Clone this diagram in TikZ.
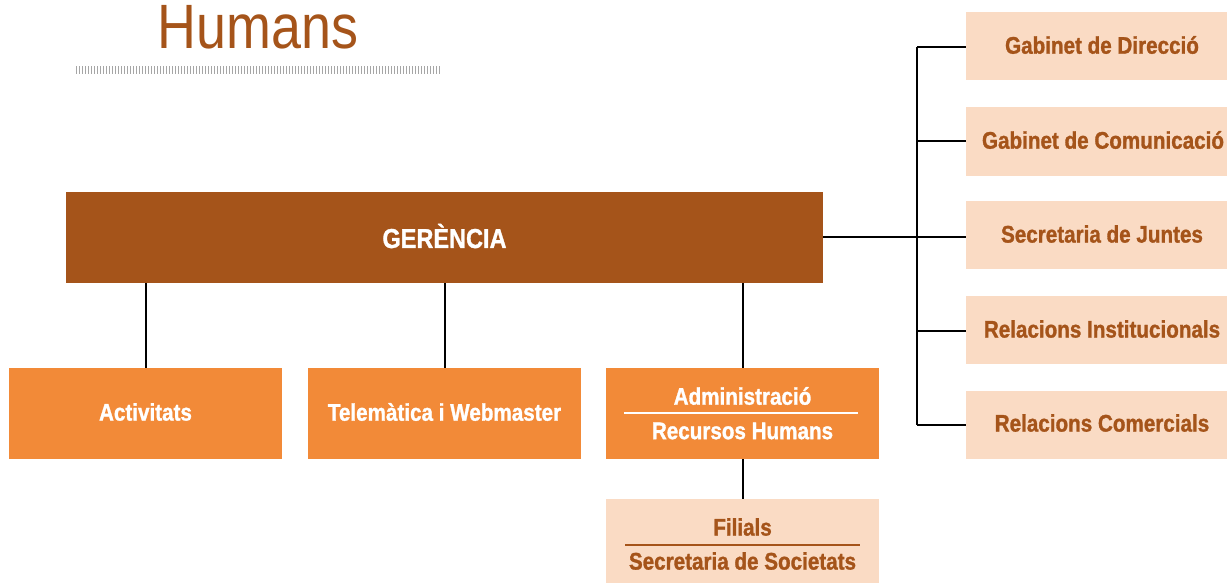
\documentclass[tikz,border=0pt]{standalone}
\usepackage{fontspec}
\setmainfont{Liberation Sans}[FakeStretch=0.86, BoldFeatures={FakeBold=1.2}]
\definecolor{brown}{HTML}{A5541A}
\definecolor{orng}{HTML}{F28A38}
\definecolor{peach}{HTML}{FADBC4}
\begin{document}
\begin{tikzpicture}[x=0.75pt,y=-0.75pt,
  box/.style={inner sep=0pt, font=\bfseries\fontsize{18}{22}\selectfont},
  obox/.style={box, fill=orng, text=white},
  pbox/.style={box, fill=peach, text=brown},
  conn/.style={line width=1.5pt, black}]
\useasboundingbox (0,0) rectangle (1227,583);
% title
\node[anchor=base, text=brown, font=\fontsize{47}{50}\selectfont] (title) at (258,48) {Humans};
\draw[gray!70, line width=6pt, dash pattern=on 0.8pt off 1.45pt] (76,70) -- (440,70);
% nodes
\node[box, fill=brown, text=white, minimum width=757*0.75pt, minimum height=91*0.75pt] (ger) at (444.5,237.5) {};
\node[box, text=white, font=\bfseries\fontsize{20.5}{24}\selectfont] (gert) at (444.5,236) {GERÈNCIA};
\node[obox, minimum width=273*0.75pt, minimum height=91*0.75pt] (act) at (145.5,413.5) {};
\node[box, text=white] (actt) at (145.5,412) {Activitats};
\node[obox, minimum width=273*0.75pt, minimum height=91*0.75pt] (tel) at (444.5,413.5) {};
\node[box, text=white] (telt) at (444.5,412) {Telemàtica i Webmaster};
\node[obox, minimum width=273*0.75pt, minimum height=91*0.75pt] (adm) at (742.5,413.5) {};
\node[box, text=white] (adm1) at (742.5,396) {Administració};
\node[box, text=white] (adm2) at (742.5,431) {Recursos Humans};
\draw[white, line width=1.5pt] (624,413) -- (858,413);
\node[pbox, minimum width=273*0.75pt, minimum height=84*0.75pt] (fil) at (742.5,541) {};
\node[box, text=brown] (fil1) at (742.5,527) {Filials};
\node[box, text=brown] (fil2) at (742.5,561) {Secretaria de Societats};
\draw[brown, line width=1.5pt] (625,544.5) -- (860,544.5);
% right boxes
\node[pbox, minimum width=261*0.75pt, minimum height=68*0.75pt] (r1) at (1096.5,46) {};
\node[box, text=brown] at (1102,45) {Gabinet de Direcció};
\node[pbox, minimum width=261*0.75pt, minimum height=69*0.75pt] (r2) at (1096.5,141.5) {};
\node[box, text=brown] at (1103,140) {Gabinet de Comunicació};
\node[pbox, minimum width=261*0.75pt, minimum height=68*0.75pt] (r3) at (1096.5,235) {};
\node[box, text=brown] at (1102,234) {Secretaria de Juntes};
\node[pbox, minimum width=261*0.75pt, minimum height=68*0.75pt] (r4) at (1096.5,330) {};
\node[box, text=brown] at (1102,329) {Relacions Institucionals};
\node[pbox, minimum width=261*0.75pt, minimum height=68*0.75pt] (r5) at (1096.5,425) {};
\node[box, text=brown] at (1102,423) {Relacions Comercials};
% connectors
\draw[conn] (ger.east |- 0,237) -- (r3.west |- 0,237);
\draw[conn] (917,47) -- (917,425);
\foreach \n/\yy in {r1/47, r2/141, r4/331, r5/425} \draw[conn] (917,\yy) -- (\n.west |- 0,\yy);
\draw[conn] (ger.south -| act.north) -- (act.north);
\draw[conn] (ger.south -| tel.north) -- (tel.north);
\draw[conn] (ger.south -| adm.north) -- (adm.north);
\draw[conn] (adm.south) -- (fil.north);
\end{tikzpicture}
\end{document}
